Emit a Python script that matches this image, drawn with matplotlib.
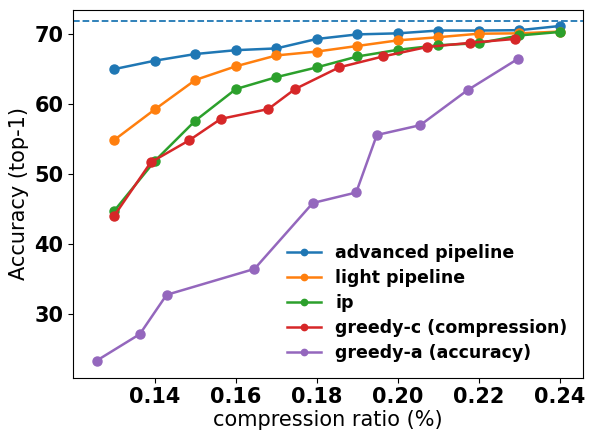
import matplotlib
matplotlib.use("Agg")
import matplotlib.pyplot as plt

ratios = [0.13, 0.14, 0.15, 0.16, 0.17, 0.18, 0.19, 0.20, 0.21, 0.22, 0.23, 0.24]
advanced = [65.0, 66.2, 67.15, 67.7, 67.95, 69.3, 69.95, 70.1, 70.5, 70.5, 70.55, 71.15]
light = [54.9, 59.25, 63.45, 65.4, 66.95, 67.5, 68.3, 69.1, 69.55, 70.05, 70.1, 70.35]
ip = [44.8, 51.9, 57.65, 62.15, 63.85, 65.25, 66.8, 67.75, 68.4, 68.7, 69.8, 70.3]

greedy_c_x = [0.13, 0.139, 0.1485, 0.1563, 0.168, 0.1746, 0.1855, 0.1963, 0.2072, 0.2179, 0.2288]
greedy_c = [44.1, 51.7, 54.85, 57.9, 59.3, 62.15, 65.25, 66.8, 68.15, 68.75, 69.3]

greedy_a_x = [0.1256, 0.1363, 0.1429, 0.1646, 0.179, 0.1897, 0.1948, 0.2055, 0.2172, 0.2296]
greedy_a = [23.4, 27.2, 32.8, 36.5, 45.9, 47.4, 55.6, 57.0, 62.0, 66.45]

baseline = 71.85

fig, ax = plt.subplots(figsize=(5.89, 4.32), dpi=100)
ax.plot(ratios, advanced, marker='o', lw=1.8, ms=6.5, label='advanced pipeline')
ax.plot(ratios, light, marker='o', lw=1.8, ms=6.5, label='light pipeline')
ax.plot(ratios, ip, marker='o', lw=1.8, ms=6.5, label='ip')
ax.plot(greedy_c_x, greedy_c, marker='o', lw=1.8, ms=6.5, label='greedy-c (compression)')
ax.plot(greedy_a_x, greedy_a, marker='o', lw=1.8, ms=6.5, label='greedy-a (accuracy)')
ax.axhline(y=baseline, color='tab:blue', linestyle='--', lw=1.3)

ax.set_ylim(21.0, 73.5)
ax.set_xticks([0.14, 0.16, 0.18, 0.20, 0.22, 0.24])
ax.set_yticks([30, 40, 50, 60, 70])
for lbl in ax.get_xticklabels() + ax.get_yticklabels():
    lbl.set_fontweight('bold')
    lbl.set_fontsize(15)
ax.set_xlabel('compression ratio (%)', fontsize=15, labelpad=2)
ax.set_ylabel('Accuracy (top-1)', fontsize=15)
ax.legend(loc='lower right', frameon=False, prop={'weight': 'bold', 'size': 12.5},
          markerscale=0.7, borderaxespad=0.5, labelspacing=0.4)

fig.subplots_adjust(left=0.1245, right=0.99, bottom=0.126, top=0.978)
fig.savefig('out.png')
